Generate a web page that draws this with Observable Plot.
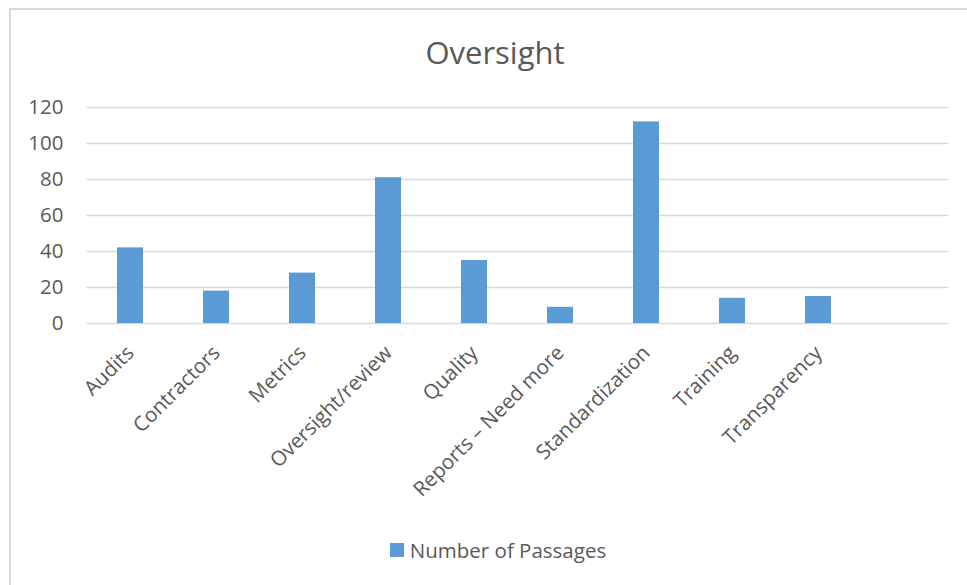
<!DOCTYPE html>
<html>
<head>
<meta charset="utf-8">
<script src="https://cdn.jsdelivr.net/npm/d3@7"></script>
<script src="https://cdn.jsdelivr.net/npm/@observablehq/plot@0.6"></script>
<style>
  html, body { margin: 0; padding: 0; background: #fff; }
  #wrap { position: relative; width: 967px; height: 585px; overflow: hidden; font-family: "Open Sans", sans-serif; color: #595959; }
  #frame { position: absolute; left: 9px; top: 8px; width: 1000px; height: 640px; border: 2px solid #d9d9d9; box-sizing: border-box; pointer-events: none; }
  #title { margin: 0; padding-top: 32px; height: 40px; line-height: 40px; font-size: 31px; text-align: center; padding-left: 23px; box-sizing: content-box; }
  #chart svg { display: block; }
  #legend { display: flex; align-items: center; justify-content: center; padding-left: 29px; margin-top: 15px; height: 30px; font-size: 20.5px; }
  #legend .sw { width: 14px; height: 14px; background: #5b9bd5; margin-right: 6px; }
</style>
</head>
<body>
<div id="wrap">
  <div id="frame"></div>
  <div id="title">Oversight</div>
  <div id="chart"></div>
  <div id="legend"><span class="sw"></span><span>Number of Passages</span></div>
</div>
<script>
const categories = ["Audits", "Contractors", "Metrics", "Oversight/review", "Quality", "Reports – Need more", "Standardization", "Training", "Transparency"];
const passages = [42, 18, 28, 81, 35, 9, 112, 14, 15];
const yTicks = [0, 20, 40, 60, 80, 100, 120];
const seriesName = "Number of Passages";

const data = categories.map((c, i) => ({category: c, value: passages[i]}));

const chart = Plot.plot({
  width: 967,
  height: 448,
  marginLeft: 86,
  marginRight: 19,
  marginTop: 35,
  marginBottom: 197,
  style: {fontFamily: "Open Sans, sans-serif", fontSize: "20.5px", color: "#595959", background: "transparent", overflow: "visible"},
  x: {domain: [...categories, " "], paddingInner: 0.7, paddingOuter: 0.35, align: 0.5, label: null},
  y: {domain: [0, 120], ticks: yTicks, label: null},
  marks: [
    Plot.gridY(yTicks, {stroke: "#d9d9d9", strokeOpacity: 1, strokeWidth: 1.3}),
    Plot.barY(data, {x: "category", y: "value", fill: "#5b9bd5", title: d => `${seriesName}: ${d.value}`}),
    Plot.axisY(yTicks, {tickSize: 0, tickPadding: 23, label: null}),
    Plot.axisX({tickSize: 0, tickRotate: -45, tickPadding: 26, label: null})
  ]
});
document.getElementById("chart").appendChild(chart);
</script>
</body>
</html>
